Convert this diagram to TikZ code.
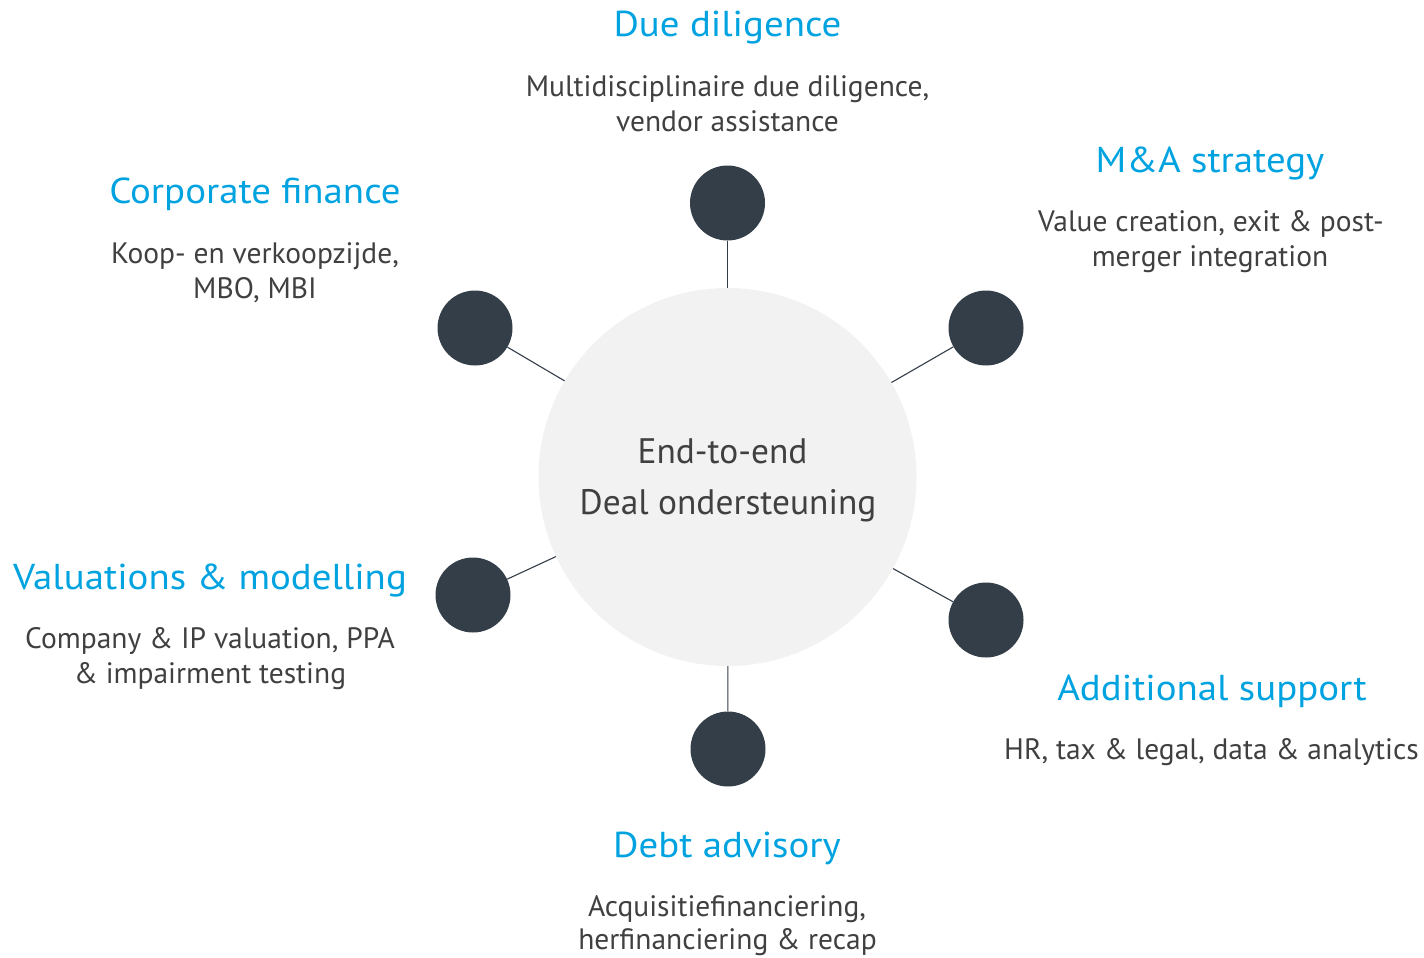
\documentclass[tikz,border=0pt]{standalone}
\usepackage{fontspec}
\setmainfont{PT Sans}
\newfontfamily\titlefont[FakeStretch=1.08]{PT Sans}
\definecolor{titleblue}{RGB}{0,163,224}
\definecolor{dotdark}{RGB}{52,62,72}
\definecolor{bodygrey}{RGB}{64,64,64}
\definecolor{hubfill}{RGB}{242,242,242}
\begin{document}
\begin{tikzpicture}[x=1pt,y=-1pt,
  dot/.style={circle,fill=dotdark,draw=none,minimum size=75pt,inner sep=0pt},
  hub/.style={circle,fill=hubfill,draw=none,minimum size=378pt,inner sep=0pt},
  link/.style={draw=dotdark,line width=1.1pt},
  ttl/.style={anchor=base,inner sep=0pt,text=titleblue,font=\titlefont\fontsize{36}{42}\selectfont},
  txt/.style={anchor=base,inner sep=0pt,text=bodygrey,font=\fontsize{29.5}{35}\selectfont},
  hubtxt/.style={anchor=base,inner sep=0pt,text=bodygrey,font=\fontsize{35.4}{42}\selectfont}]
\useasboundingbox (0,0) rectangle (1424,958);
% hub and satellites
\node[hub] (hub) at (727.5,477) {};
\node[dot] (dd) at (727.5,203) {};
\node[dot] (cf) at (475,328) {};
\node[dot] (ma) at (986,328) {};
\node[dot] (vm) at (473,595) {};
\node[dot] (as) at (986,620) {};
\node[dot] (da) at (728,749) {};
\foreach \s in {dd,cf,ma,vm,as,da} \draw[link] (\s) -- (hub);
% centre text
\node[hubtxt] (h1) at (722.5,463) {End-to-end};
\node[hubtxt] (h2) at (728,514) {Deal ondersteuning};
% Due diligence
\node[ttl] (ddt) at (727.5,37) {Due diligence};
\node[txt] (dd1) at (727.5,96) {Multidisciplinaire due diligence,};
\node[txt] (dd2) at (727.5,131) {vendor assistance};
% Corporate finance
\node[ttl] (cft) at (255,203) {Corporate finance};
\node[txt] (cf1) at (255,263) {Koop- en verkoopzijde,};
\node[txt] (cf2) at (255,298) {MBO, MBI};
% M&A strategy
\node[ttl] (mat) at (1210,172) {M\&A strategy};
\node[txt] (ma1) at (1211,231) {Value creation, exit \& post-};
\node[txt] (ma2) at (1210,266) {merger integration};
% Valuations
\node[ttl] (vmt) at (210,589) {Valuations \& modelling};
\node[txt] (vm1) at (210,648) {Company \& IP valuation, PPA};
\node[txt] (vm2) at (210,683) {\& impairment testing};
% Additional support
\node[ttl] (ast) at (1212,700) {Additional support};
\node[txt] (as1) at (1211.5,759) {HR, tax \& legal, data \& analytics};
% Debt advisory
\node[ttl] (dat) at (727,857) {Debt advisory};
\node[txt] (da1) at (727,916) {Acquisitiefinanciering,};
\node[txt] (da2) at (727.5,949) {herfinanciering \& recap};
\end{tikzpicture}
\end{document}
